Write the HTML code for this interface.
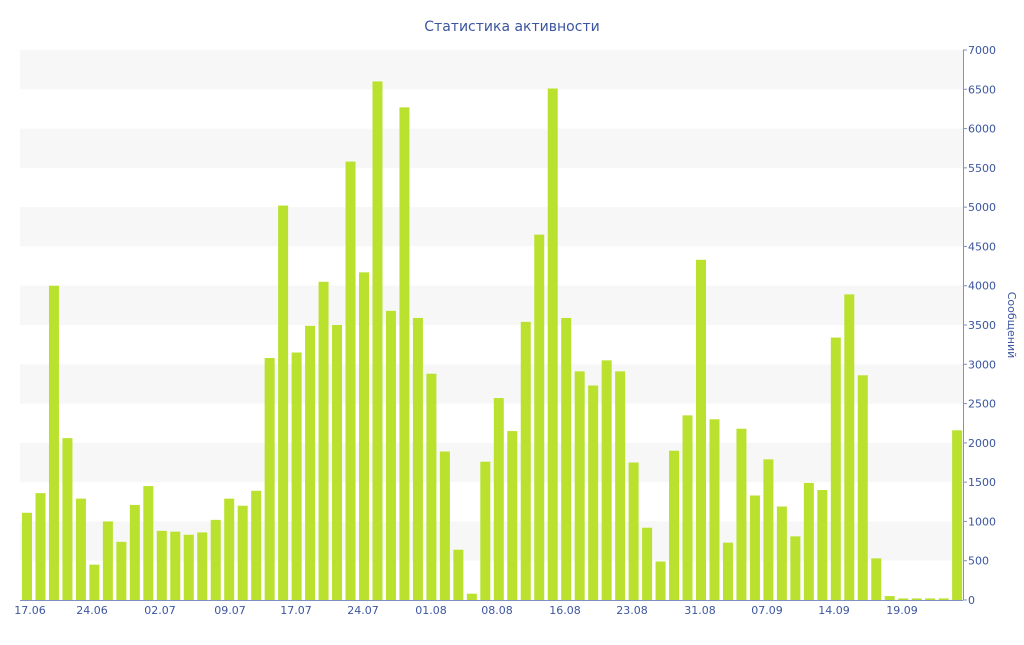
<!DOCTYPE html>
<html><head><meta charset="utf-8"><style>
body{margin:0;background:#fff;}
svg text{font-family:"DejaVu Sans","Liberation Sans",sans-serif;}
</style></head><body>
<svg width="1024" height="640" xmlns="http://www.w3.org/2000/svg">
<text x="512" y="31" text-anchor="middle" font-size="14" fill="#3b55a0">Статистика активности</text>
<g fill="#f7f7f7">
<rect x="20" y="50" width="943" height="39.3"/>
<rect x="20" y="128.6" width="943" height="39.3"/>
<rect x="20" y="207.1" width="943" height="39.3"/>
<rect x="20" y="285.7" width="943" height="39.3"/>
<rect x="20" y="364.3" width="943" height="39.3"/>
<rect x="20" y="442.9" width="943" height="39.3"/>
<rect x="20" y="521.4" width="943" height="39.3"/>
</g>
<g id="bars" fill="#b9e12e"></g>
<line x1="963.5" y1="50" x2="963.5" y2="600" stroke="#8090c0"/>
<line x1="20" y1="600.5" x2="963" y2="600.5" stroke="#8090c0"/>
<g id="yt" font-size="11" fill="#3b55a0"></g>
<g id="xt" font-size="11" fill="#3b55a0" text-anchor="middle"></g>
<text transform="translate(1008,325) rotate(90)" text-anchor="middle" font-size="11" fill="#3b55a0">Сообщений</text>
<script>
var v=[1110,1360,4000,2060,1290,450,1000,740,1210,1450,880,870,830,860,1020,1290,1200,1390,3080,5020,3150,3490,4050,3500,5580,4170,6600,3680,6270,3590,2880,1890,640,80,1760,2570,2150,3540,4650,6510,3590,2910,2730,3050,2910,1750,920,490,1900,2350,4330,2300,730,2180,1330,1790,1190,810,1490,1400,3340,3890,2860,530,50,20,20,20,20,2160];
var ns="http://www.w3.org/2000/svg",b=document.getElementById("bars");
v.forEach(function(d,i){var r=document.createElementNS(ns,"rect");var c=27+i*13.48;var h=d*550/7000;
r.setAttribute("x",c-5);r.setAttribute("width",10);r.setAttribute("y",600-h);r.setAttribute("height",h);b.appendChild(r);});
var yt=document.getElementById("yt");
for(var k=0;k<=14;k++){var y=600-k*500*550/7000;var t=document.createElementNS(ns,"text");t.setAttribute("x",968);t.setAttribute("y",y+4);t.textContent=k*500;yt.appendChild(t);
var l=document.createElementNS(ns,"line");l.setAttribute("x1",963);l.setAttribute("x2",967);l.setAttribute("y1",y);l.setAttribute("y2",y);l.setAttribute("stroke","#8090c0");yt.appendChild(l);}
var xl=[["17.06",30],["24.06",92],["02.07",160],["09.07",230],["17.07",296],["24.07",363],["01.08",431],["08.08",497],["16.08",565],["23.08",632],["31.08",700],["07.09",767],["14.09",834],["19.09",902]];
var xt=document.getElementById("xt");
xl.forEach(function(p){var t=document.createElementNS(ns,"text");t.setAttribute("x",p[1]);t.setAttribute("y",614);t.textContent=p[0];xt.appendChild(t);});
</script>
</svg>
</body></html>
